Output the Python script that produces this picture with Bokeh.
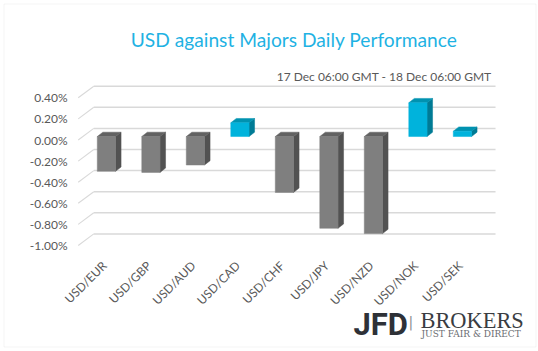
import math
from bokeh.plotting import figure
from bokeh.models import Label, Range1d, ColumnDataSource, BoxAnnotation
from bokeh.embed import file_html
from bokeh.resources import INLINE

# ---- data ----
pairs = ["USD/EUR", "USD/GBP", "USD/AUD", "USD/CAD", "USD/CHF",
         "USD/JPY", "USD/NZD", "USD/NOK", "USD/SEK"]
perf = [-0.33, -0.34, -0.27, 0.13, -0.53, -0.87, -0.92, 0.32, 0.05]
y_ticks = [-1.0, -0.8, -0.6, -0.4, -0.2, 0.0, 0.2, 0.4]
y_tick_labels = ["-1.00%", "-0.80%", "-0.60%", "-0.40%", "-0.20%", "0.00%", "0.20%", "0.40%"]
title_text = "USD against Majors Daily Performance"
subtitle_text = "17 Dec 06:00 GMT - 18 Dec 06:00 GMT"

# ---- view / 3D geometry (category units / percent units) ----
VIEW_X = (-2.2742, 9.8157)
VIEW_Y = (-2.0047, 1.3223)
AXIS_X0 = -0.528            # front edge of the value axis
WALL_DX, WALL_DY = 0.35, 0.11
WALL_END = 8.85
BAR_DX, BAR_DY = 0.106, 0.033
CAP_DX, CAP_DY = 0.124, 0.041
BAR_W = 0.41
YLAB_GAP = 0.24
XLAB_DX, XLAB_Y = 0.06, -1.17

GRID = "#D9D9D9"
TXT = "#595959"
FONT = "Lato"

p = figure(width=538, height=351, output_backend="svg", toolbar_location=None,
           x_range=Range1d(*VIEW_X), y_range=Range1d(*VIEW_Y),
           x_axis_location=None, y_axis_location=None, min_border=0, title=None)
p.outline_line_color = None
p.xgrid.visible = False
p.ygrid.visible = False
p.background_fill_color = "white"
p.border_fill_color = "white"

n_t = len(y_ticks)
# back wall gridlines + diagonal lines from the front
p.segment(x0=[AXIS_X0] * n_t, y0=y_ticks,
          x1=[AXIS_X0 + WALL_DX] * n_t, y1=[t + WALL_DY for t in y_ticks],
          line_color=GRID, line_width=1.1)
p.segment(x0=[AXIS_X0 + WALL_DX] * n_t, y0=[t + WALL_DY for t in y_ticks],
          x1=[WALL_END] * n_t, y1=[t + WALL_DY for t in y_ticks],
          line_color=GRID, line_width=1.5)

# value-axis labels
p.text(x=[AXIS_X0 - YLAB_GAP] * n_t, y=y_ticks, text=y_tick_labels,
       text_align="right", text_baseline="middle", text_font_size="12px",
       text_color=TXT, text_font={"value": FONT})

# category labels (rotated 45 degrees)
p.text(x=[i + XLAB_DX for i in range(len(pairs))], y=[XLAB_Y] * len(pairs), text=pairs,
       angle=math.pi / 4, text_align="right", text_baseline="middle",
       text_font_size="12px", text_color=TXT, text_font={"value": FONT})

# bars
fronts = dict(left=[], right=[], bottom=[], top=[], color=[])
sides_x, sides_y, side_c = [], [], []
caps_x, caps_y, cap_c = [], [], []
for i, v in enumerate(perf):
    l = i + BAR_DX - BAR_W / 2
    r = i + BAR_DX + BAR_W / 2
    b = min(0, v) + BAR_DY
    t = max(0, v) + BAR_DY
    pos = v >= 0
    fc, sc, cc = ("#00B3DC", "#007B95", "#0092B0") if pos else ("#7F7F7F", "#525252", "#626262")
    fronts["left"].append(l); fronts["right"].append(r)
    fronts["bottom"].append(b); fronts["top"].append(t); fronts["color"].append(fc)
    sides_x.append([r, r, r + CAP_DX, r + CAP_DX])
    sides_y.append([b, t, t + CAP_DY, b + CAP_DY])
    side_c.append(sc)
    caps_x.append([l, r, r + CAP_DX, l + CAP_DX])
    caps_y.append([t, t, t + CAP_DY, t + CAP_DY])
    cap_c.append(cc)

p.patches(xs=sides_x, ys=sides_y, fill_color=side_c, line_color=side_c, line_width=0.5)
p.patches(xs=caps_x, ys=caps_y, fill_color=cap_c, line_color=cap_c, line_width=0.5)
p.quad(source=ColumnDataSource(fronts), left="left", right="right", bottom="bottom",
       top="top", fill_color="color", line_color="color", line_width=0.5)

# titles
scr = dict(x_units="screen", y_units="screen", text_baseline="middle")
p.add_layout(Label(x=293.5, y=312, text=title_text, text_align="center",
                   text_font=FONT, text_font_size="19.2px", text_color="#1FB2E3", **scr))
p.add_layout(Label(x=491, y=275, text=subtitle_text, text_align="right",
                   text_font=FONT, text_font_size="12px", text_color=TXT, **scr))

# logo
p.add_layout(Label(x=353, y=27, text="JFD", text_font="Roboto", text_font_style="bold",
                   text_font_size="31px", text_color="#2E3137", **scr))
p.add_layout(Label(x=408, y=29.5, text="|", text_font="DejaVu Sans", text_font_size="14px",
                   text_color="#8A8D92", **scr))
p.add_layout(Label(x=420, y=31, text="BROKERS", text_font="Liberation Serif",
                   text_font_size="22.4px", text_color="#3A3D42", **scr))
p.add_layout(Label(x=421, y=17.5, text="JUST FAIR & DIRECT", text_font="DejaVu Serif",
                   text_font_size="9px", text_color="#6A6D72", **scr))

# chart border
p.add_layout(BoxAnnotation(left=3.5, right=535.5, bottom=4.5, top=347.5,
                           left_units="screen", right_units="screen",
                           bottom_units="screen", top_units="screen",
                           fill_color=None, line_color=GRID, line_width=1))

open("out.html", "w").write(file_html(p, INLINE))
